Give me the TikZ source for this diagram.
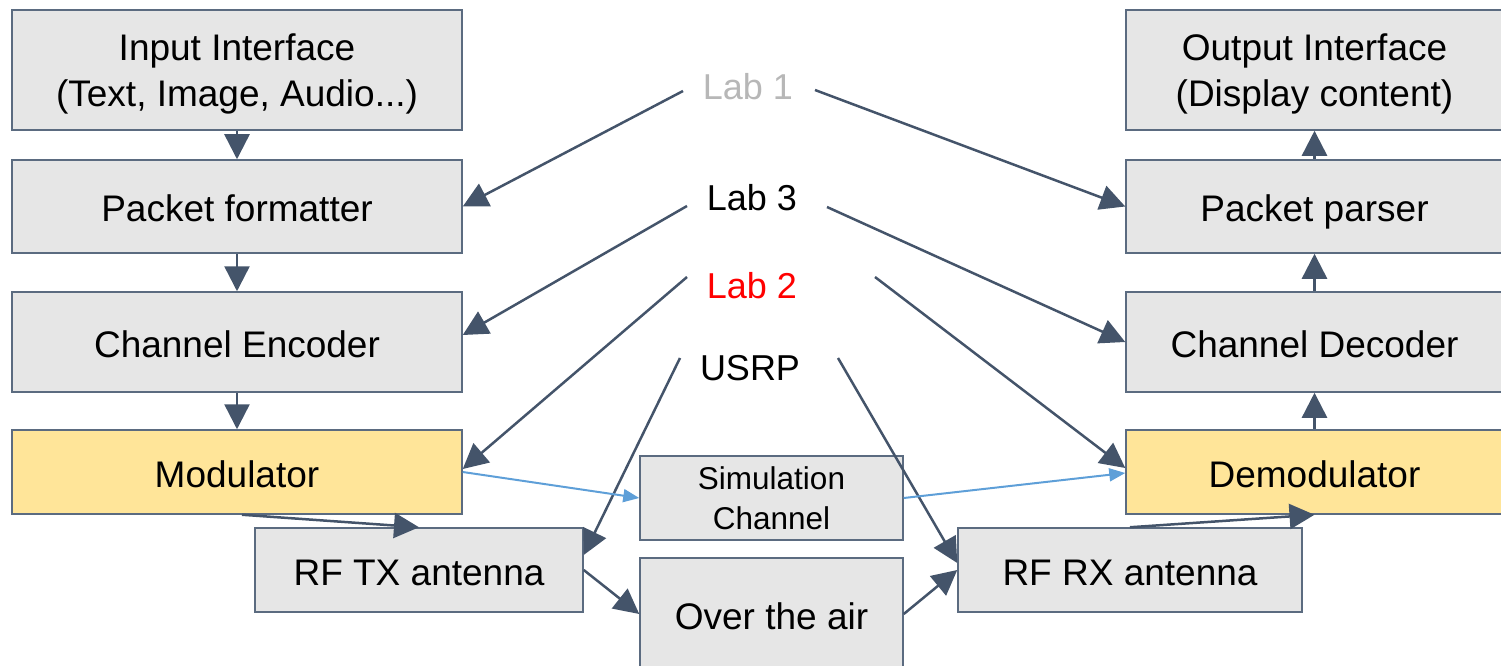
\documentclass[tikz,border=0pt]{standalone}
\usepackage{fontspec}
\setmainfont{Liberation Sans}
\usepackage{tikz}
\usetikzlibrary{arrows.meta}
\definecolor{boxLine}{HTML}{5B6B80}
\definecolor{boxFill}{HTML}{E6E6E6}
\definecolor{modFill}{HTML}{FFE599}
\definecolor{arrowDark}{HTML}{44546A}
\definecolor{arrowBlue}{HTML}{5E9FD8}
\definecolor{labGray}{HTML}{B7B7B7}
\tikzset{
     boxBase/.style =
        { rectangle
        , draw=boxLine
        , line width=1.5pt
        , fill=boxFill
        , align=center
        , inner sep=0pt
        , font=\fontsize{37}{46}\selectfont
        }
   , blockNode/.style =
        { boxBase
        , text height=30pt
        , text depth=0pt
        }
   , twoLineNode/.style =
        { boxBase
        , text depth=0pt
        }
   , modNode/.style =
        { blockNode
        , fill=modFill
        }
   , labNode/.style =
        { inner sep=0pt
        , font=\fontsize{36}{43}\selectfont
        }
   , darkArrow/.style =
        { draw
        , color=arrowDark
        , line width=2.5pt
        , -{Triangle[length=25pt,width=25pt]}
        }
   , blueArrow/.style =
        { draw
        , color=arrowBlue
        , line width=2pt
        , -{Triangle[length=16pt,width=13pt]}
        }
}

\begin{document}
\begin{tikzpicture}
            [ x=1pt
            , y=-1pt
            ]
            \useasboundingbox (0,0) rectangle (1501,666);
            \clip (0,0) rectangle (1501,666);

            % transmitter side
            \node[twoLineNode, minimum width=450pt, minimum height=120pt] (input) at (237,70)
                {Input Interface\\(Text, Image, Audio...)};
            \node[blockNode, minimum width=450pt, minimum height=93pt] (formatter) at (237,206.5) {Packet formatter};
            \node[blockNode, minimum width=450pt, minimum height=100pt] (encoder) at (237,342) {Channel Encoder};
            \node[modNode, minimum width=450pt, minimum height=84pt] (modulator) at (237,472) {Modulator};
            \node[blockNode, minimum width=328pt, minimum height=84pt] (rftx) at (419,570) {RF TX antenna};

            % channel
            \node[twoLineNode, minimum width=263pt, minimum height=84pt, font=\fontsize{31.5}{40}\selectfont]
                (simch) at (771.5,498) {Simulation\\Channel};
            \node[blockNode, minimum width=263pt, minimum height=112pt] (ota) at (771.5,614) {Over the air};

            % receiver side
            \node[blockNode, minimum width=344pt, minimum height=84pt] (rfrx) at (1130,570) {RF RX antenna};
            \node[modNode, minimum width=377pt, minimum height=84pt] (demod) at (1314.5,472) {Demodulator};
            \node[blockNode, minimum width=377pt, minimum height=100pt] (decoder) at (1314.5,342) {Channel Decoder};
            \node[blockNode, minimum width=377pt, minimum height=93pt] (parser) at (1314.5,206.5) {Packet parser};
            \node[twoLineNode, minimum width=377pt, minimum height=120pt] (output) at (1314.5,70)
                {Output Interface\\(Display content)};

            % labs
            \node[labNode, text=labGray] (lab1) at (748,87) {Lab 1};
            \node[labNode] (lab3) at (752,198) {Lab 3};
            \node[labNode, text=red] (lab2) at (752,286) {Lab 2};
            \node[labNode] (usrp) at (750,368) {USRP};

            \coordinate (l1a) at (683,91);
            \coordinate (l1b) at (815,90);
            \coordinate (l3a) at (687,206);
            \coordinate (l3b) at (827,207);
            \coordinate (l2a) at (687,277);
            \coordinate (l2b) at (875,277);
            \coordinate (usa) at (680,358);
            \coordinate (usb) at (838,358);

            \path[every edge/.style=darkArrow]
            (input) edge (formatter)
            (formatter) edge (encoder)
            (encoder) edge (modulator)
            ([xshift=5pt]modulator.south) edge (rftx.north)
            (rftx.east) edge (ota.west)
            (ota.west -| ota.east) edge (rfrx.west)
            (rfrx.north) edge (demod.south)
            (demod) edge (decoder)
            (decoder) edge (parser)
            (parser) edge (output)

            (l1a) edge (formatter.east)
            (l1b) edge (parser.west)
            (l3a) edge ([yshift=7pt]encoder.east)
            (l3b) edge (decoder.west)
            (l2a) edge ([yshift=3pt]modulator.east)
            (l2b) edge ([yshift=4pt]demod.west)
            (usa) edge ([yshift=15pt]rftx.east)
            (usb) edge ([yshift=7pt]rfrx.west)
            ;

            \path[every edge/.style=blueArrow]
            (modulator.east) edge (simch.west)
            (simch.east) edge ([yshift=-1pt]demod.west)
            ;
        \end{tikzpicture}
\end{document}
